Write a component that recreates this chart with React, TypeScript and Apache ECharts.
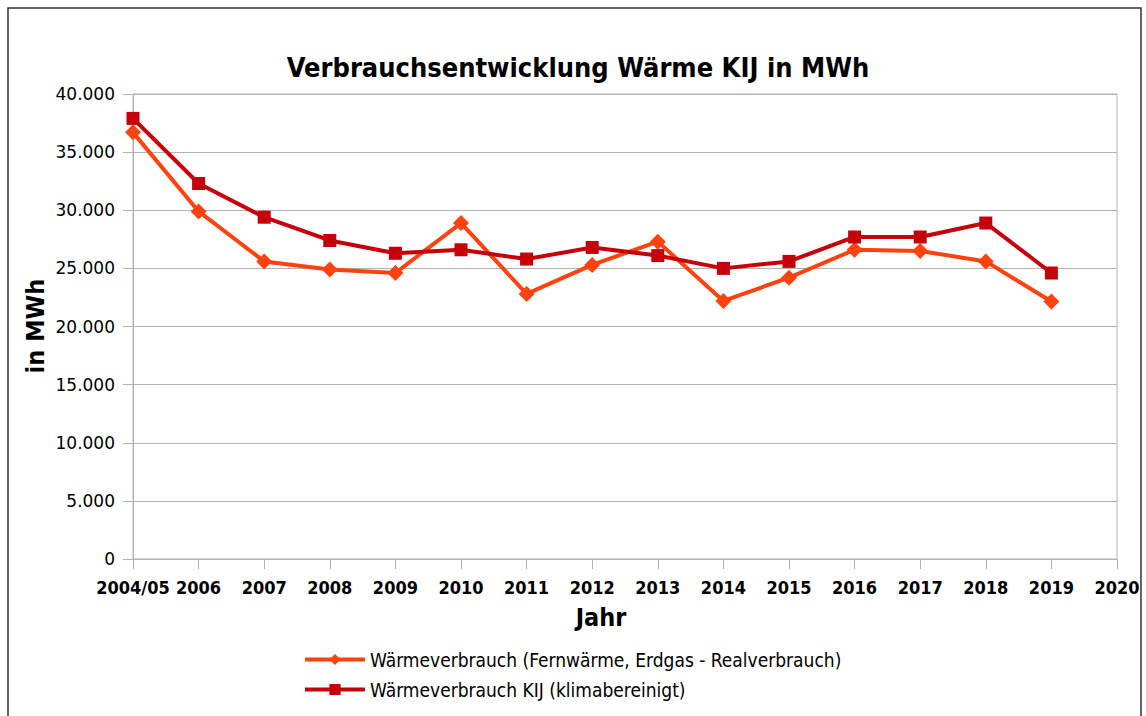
import React, { useEffect, useRef } from "react";
import * as echarts from "echarts";

const categories = ["2004/05", "2006", "2007", "2008", "2009", "2010", "2011", "2012", "2013", "2014", "2015", "2016", "2017", "2018", "2019", "2020"];
const realverbrauch = [36700, 29900, 25600, 24900, 24600, 28900, 22800, 25300, 27300, 22200, 24200, 26600, 26500, 25600, 22150, null];
const klimabereinigt = [37900, 32300, 29400, 27400, 26300, 26600, 25800, 26800, 26100, 25000, 25600, 27700, 27700, 28900, 24600, null];
const seriesNames = ["Wärmeverbrauch (Fernwärme, Erdgas - Realverbrauch)", "Wärmeverbrauch KIJ (klimabereinigt)"];

const fmt = (v: number) => (v === 0 ? "0" : String(v).replace(/(\d)(\d{3})$/, "$1.$2"));

export default function App() {
  const ref = useRef<HTMLDivElement>(null);
  useEffect(() => {
    document.body.style.margin = "0";
    const chart = echarts.init(ref.current!, null, { renderer: "svg" });
    chart.setOption({
      animation: false,
      backgroundColor: "#ffffff",
      title: {
        text: "Verbrauchsentwicklung Wärme KIJ in MWh",
        left: 573,
        textAlign: "center",
        top: 49,
        textStyle: { fontFamily: "DejaVu Sans Condensed", fontWeight: "bold", fontSize: 27, color: "#000" },
      },
      grid: { left: 133, top: 94, width: 984, height: 465, show: true, borderColor: "#b3b3b3", borderWidth: 1 },
      xAxis: {
        type: "category",
        data: categories,
        boundaryGap: false,
        axisLine: { lineStyle: { color: "#b3b3b3" } },
        axisTick: { show: true, length: 10, lineStyle: { color: "#b3b3b3" } },
        axisLabel: { color: "#000", fontFamily: "DejaVu Sans Condensed", fontWeight: "bold", fontSize: 18, margin: 19, interval: 0 },
        splitLine: { show: false },
      },
      yAxis: {
        type: "value",
        min: 0,
        max: 40000,
        interval: 5000,
        axisLine: { show: true, lineStyle: { color: "#b3b3b3" } },
        axisTick: { show: true, length: 10, lineStyle: { color: "#b3b3b3" } },
        axisLabel: { color: "#000", fontFamily: "DejaVu Sans", fontSize: 17, margin: 18, formatter: (v: number) => fmt(v) },
        splitLine: { lineStyle: { color: "#b3b3b3" } },
      },
      legend: {
        orient: "vertical",
        left: 298,
        top: 645,
        itemGap: 11,
        itemWidth: 60,
        itemHeight: 14,
        lineStyle: { width: 4 },
        textStyle: { fontFamily: "DejaVu Sans Condensed", fontSize: 19, color: "#000" },
        data: seriesNames,
      },
      graphic: [
        { type: "rect", shape: { x: 8, y: 8, width: 1133, height: 740 }, style: { fill: "none", stroke: "#333", lineWidth: 1.5 }, silent: true },
        { type: "text", x: 601, y: 617, style: { text: "Jahr", fontFamily: "DejaVu Sans Condensed", fontWeight: "bold", fontSize: 25, fill: "#000", textAlign: "center", textVerticalAlign: "middle" } },
        { type: "text", x: 35, y: 326, rotation: Math.PI / 2, style: { text: "in MWh", fontFamily: "DejaVu Sans Condensed", fontWeight: "bold", fontSize: 25, fill: "#000", textAlign: "center", textVerticalAlign: "middle" } },
      ],
      series: [
        {
          name: seriesNames[0],
          type: "line",
          data: realverbrauch,
          symbol: "diamond",
          symbolSize: 16,
          lineStyle: { width: 4, color: "#ff420e" },
          itemStyle: { color: "#ff420e" },
        },
        {
          name: seriesNames[1],
          type: "line",
          data: klimabereinigt,
          symbol: "rect",
          symbolSize: 13,
          lineStyle: { width: 4, color: "#c5000b" },
          itemStyle: { color: "#c5000b" },
        },
      ],
    });
    return () => chart.dispose();
  }, []);
  return <div ref={ref} style={{ width: 1146, height: 716 }} />;
}
